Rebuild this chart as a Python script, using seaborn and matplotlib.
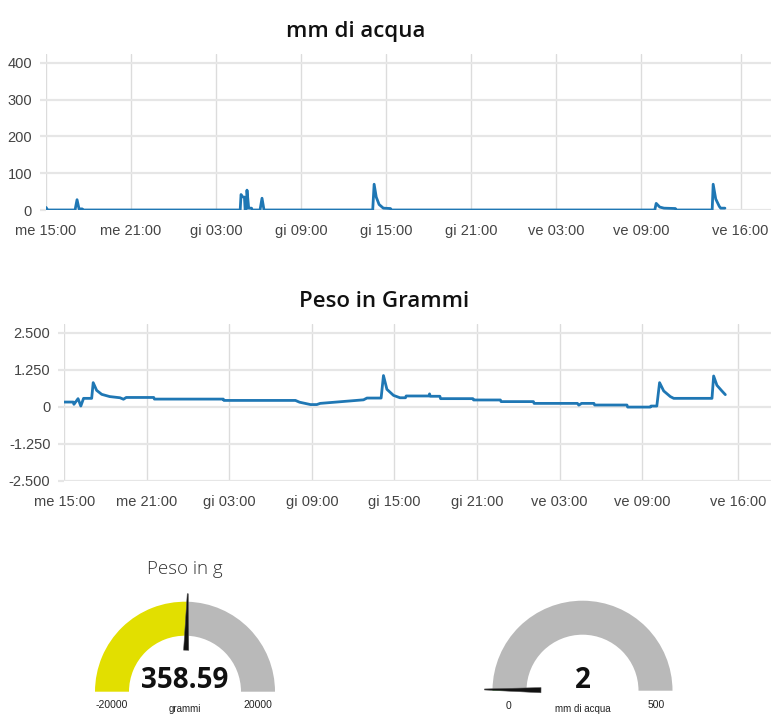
import numpy as np
import pandas as pd
import matplotlib
matplotlib.use("Agg")
import matplotlib.pyplot as plt
from matplotlib.patches import Wedge, Polygon
import seaborn as sns

sns.set_theme(style="white")
plt.rcParams["font.family"] = ["Liberation Sans", "DejaVu Sans"]

# ---------------- data ----------------
tick_hours = [0, 6, 12, 18, 24, 30, 36, 42, 49]
tick_labels = ["me 15:00", "me 21:00", "gi 03:00", "gi 09:00", "gi 15:00",
               "gi 21:00", "ve 03:00", "ve 09:00", "ve 16:00"]

rain_hours = [0.0, 0.12, 2.05, 2.19, 2.33, 2.55, 2.6, 13.7, 13.76, 13.85, 14.0,
              14.05, 14.12, 14.18, 14.3, 14.5, 14.55, 15.1, 15.24, 15.38, 23.05,
              23.15, 23.3, 23.5, 23.8, 24.3, 24.35, 42.95, 43.05, 43.3, 43.6,
              44.4, 44.45, 47.0, 47.07, 47.25, 47.5, 47.6, 47.9]
rain_mm = [7, 0, 0, 28, 3, 3, 0, 0, 42, 36, 35,
           0, 0, 54, 5, 5, 0, 0, 32, 0, 0,
           70, 35, 15, 5, 4, 0, 0, 18, 8, 5,
           4, 0, 0, 70, 30, 10, 5, 5]
rain_yticks = [0, 100, 200, 300, 400]

weight_hours = [0.0, 0.65, 0.7, 1.0, 1.2, 1.4, 1.99, 2.1, 2.35, 2.72, 3.3, 4.05,
                4.3, 4.5, 6.5, 6.55, 11.56, 11.6, 16.8, 17.1, 17.9, 18.35, 18.6,
                21.75, 22.0, 23.03, 23.2, 23.45, 23.93, 24.4, 24.8, 24.85, 26.5,
                26.55, 26.6, 27.3, 27.35, 29.7, 29.75, 31.7, 31.75, 34.1, 34.15,
                37.3, 37.4, 37.6, 38.5, 38.55, 40.9, 40.95, 42.6, 42.65, 43.07,
                43.27, 43.57, 44.05, 44.3, 47.08, 47.2, 47.44, 47.8, 48.05]
weight_g = [155, 155, 78, 270, 20, 280, 280, 810, 550, 415, 340, 300,
            250, 310, 310, 255, 255, 210, 210, 150, 70, 70, 110,
            230, 290, 290, 1050, 585, 380, 300, 300, 360, 360,
            430, 350, 350, 270, 270, 225, 225, 170, 170, 110,
            110, 50, 110, 110, 55, 55, -15, -15, 20, 20,
            810, 530, 340, 280, 280, 1035, 720, 530, 405]
weight_yticks = [-2500, -1250, 0, 1250, 2500]
weight_ylabels = ["-2.500", "-1.250", "0", "1.250", "2.500"]

gauge1_title = "Peso in g"
gauge1_value, gauge1_min, gauge1_max, gauge1_unit = 358.59, -20000, 20000, "grammi"
gauge2_value, gauge2_min, gauge2_max, gauge2_unit = 2, 0, 500, "mm di acqua"

LINE = "#1f77b4"
GRID_H = "#e6e6e6"
GRID_V = "#dcdcdc"
TICK_C = "#444444"
TITLE_FONT = ["Open Sans", "DejaVu Sans"]

W, H = 776, 727
fig = plt.figure(figsize=(W / 100, H / 100), dpi=100)


def px_axes(l, t, r, b):
    return fig.add_axes([l / W, 1 - b / H, (r - l) / W, (b - t) / H])


def style_chart(ax, xmax, ylim, yticks, ylabels):
    ax.set_xlim(0, xmax)
    ax.set_ylim(*ylim)
    ax.set_xticks(tick_hours)
    ax.set_xticklabels(tick_labels)
    ax.set_yticks(yticks)
    ax.set_yticklabels(ylabels)
    ax.set_xlabel("")
    ax.set_ylabel("")
    for s in ax.spines.values():
        s.set_visible(False)
    ax.grid(True, axis="y", color=GRID_H, lw=1.6)
    ax.grid(True, axis="x", color=GRID_V, lw=1.0)
    ax.tick_params(axis="x", length=0, pad=10, labelsize=10.5, labelcolor=TICK_C)
    ax.tick_params(axis="y", length=4, width=1.6, color=GRID_H, pad=6,
                   labelsize=10.5, labelcolor=TICK_C, left=True)
    ax.set_facecolor("none")


# ---------------- chart 1 ----------------
ax1 = px_axes(46, 54, 771, 210)
df1 = pd.DataFrame({"h": rain_hours, "mm": rain_mm})
sns.lineplot(data=df1, x="h", y="mm", ax=ax1, color=LINE, lw=2.0)
style_chart(ax1, 51.15, (0, 424), rain_yticks, [str(v) for v in rain_yticks])
fig.text(356 / W, 1 - 36.7 / H, "mm di acqua", ha="center", va="baseline",
         fontsize=16, fontweight="semibold", color="#111111", family=TITLE_FONT)

# ---------------- chart 2 ----------------
ax2 = px_axes(64.3, 324, 771, 480.7)
df2 = pd.DataFrame({"h": weight_hours, "g": weight_g})
sns.lineplot(data=df2, x="h", y="g", ax=ax2, color=LINE, lw=2.0)
style_chart(ax2, 51.37, (-2500, 2790), weight_yticks, weight_ylabels)
fig.text(384.5 / W, 1 - 306.7 / H, "Peso in Grammi", ha="center", va="baseline",
         fontsize=16, fontweight="semibold", color="#111111", family=TITLE_FONT)

# ---------------- gauges ----------------
axg = fig.add_axes([0, 0, 1, 1], zorder=-1)
axg.set_xlim(0, W)
axg.set_ylim(0, H)
axg.axis("off")


def gauge(cx, cy_top, value, vmin, vmax, fill, r_out=90, r_in=56):
    cy = H - cy_top
    frac = (value - vmin) / (vmax - vmin)
    ang = 180 - 180 * frac
    axg.add_patch(Wedge((cx, cy), r_out, 0, ang, width=r_out - r_in,
                        facecolor="#b9b9b9", edgecolor="none"))
    axg.add_patch(Wedge((cx, cy), r_out, ang, 180, width=r_out - r_in,
                        facecolor=fill, edgecolor="none"))
    a = np.radians(ang)
    u = np.array([np.cos(a), np.sin(a)])
    n = np.array([-np.sin(a), np.cos(a)])
    c = np.array([cx, cy])
    r1, r2 = 41.5, 98
    pts = [c + r1 * u + 2.6 * n, c + r2 * u + 0.5 * n,
           c + r2 * u - 0.5 * n, c + r1 * u - 2.6 * n]
    axg.add_patch(Polygon(pts, closed=True, facecolor="#111111",
                          edgecolor="#555555", lw=0.4))
    return cy


cy1 = gauge(185, 691.7, gauge1_value, gauge1_min, gauge1_max, "#e2df00")
axg.text(185, H - 688, f"{gauge1_value:.2f}", ha="center", va="baseline",
         fontsize=20, fontweight="bold", color="#111111", family=TITLE_FONT)
axg.text(112, H - 705, str(gauge1_min), ha="center", va="center", fontsize=7.5, color="#222222")
axg.text(258, H - 705, str(gauge1_max), ha="center", va="center", fontsize=7.5, color="#222222")
axg.text(185, H - 709, gauge1_unit, ha="center", va="center", fontsize=7, color="#222222")
axg.text(185, H - 574.3, gauge1_title, ha="center", va="baseline", fontsize=13.5,
         color="#333333", family=TITLE_FONT, fontweight="light")

cy2 = gauge(582.5, 690.7, gauge2_value, gauge2_min, gauge2_max, "#1a9a1a")
axg.text(582.5, H - 688, f"{gauge2_value}", ha="center", va="baseline",
         fontsize=20, fontweight="bold", color="#111111", family=TITLE_FONT)
axg.text(509, H - 706, str(gauge2_min), ha="center", va="center", fontsize=7.5, color="#222222")
axg.text(656, H - 704.5, str(gauge2_max), ha="center", va="center", fontsize=7.5, color="#222222")
axg.text(582.5, H - 709, gauge2_unit, ha="center", va="center", fontsize=7, color="#222222")

fig.savefig("out.png", dpi=100)
